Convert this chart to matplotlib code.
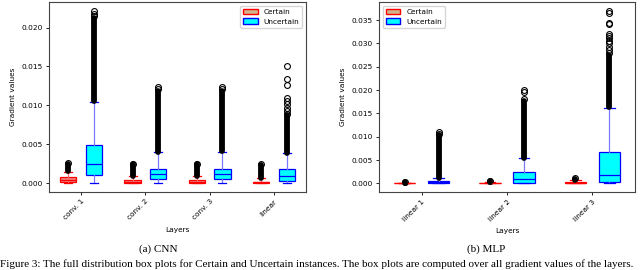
import matplotlib
matplotlib.use("Agg")
import matplotlib.pyplot as plt
from matplotlib.patches import Patch

# ---- data ----
cnn_layers = ["conv. 1", "conv. 2", "conv. 3", "linear"]
# (whislo, q1, med, q3, whishi) per layer
cnn_certain = [(0.0, 0.0001, 0.0004, 0.00072, 0.00145),
               (0.0, 0.00005, 0.0002, 0.00035, 0.0009),
               (0.0, 0.00005, 0.0002, 0.00035, 0.0009),
               (0.0, 0.0, 0.0001, 0.0002, 0.0006)]
cnn_uncertain = [(0.0, 0.00102, 0.00246, 0.00485, 0.01037),
                 (0.0, 0.00051, 0.00115, 0.00187, 0.00395),
                 (0.0, 0.00051, 0.00115, 0.00187, 0.0040),
                 (0.0, 0.0003, 0.0009, 0.00179, 0.00387)]
# dense flier columns (low, high) and separate visible fliers
cnn_certain_dense = [(0.0015, 0.0025), (0.0009, 0.0024), (0.0009, 0.0024), (0.0006, 0.0023)]
cnn_certain_fliers = [[0.0026], [0.0025], [0.0025], [0.0024]]
cnn_uncertain_dense = [(0.0105, 0.0212), (0.0040, 0.0119), (0.0041, 0.0119), (0.0039, 0.0087)]
cnn_uncertain_fliers = [[0.0215, 0.0218, 0.0221],
                        [0.0121, 0.01237],
                        [0.0121, 0.01237],
                        [0.0089, 0.0093, 0.0097, 0.0102, 0.0106, 0.0110, 0.0126, 0.0134, 0.0151]]

mlp_layers = ["linear 1", "linear 2", "linear 3"]
mlp_certain = [(0.0, 0.0, 0.00005, 0.0001, 0.00015),
               (0.0, 0.0, 0.00005, 0.0001, 0.0002),
               (0.0, 0.0, 0.0001, 0.0003, 0.0007)]
mlp_uncertain = [(0.0, 0.0, 0.0002, 0.0005, 0.00107),
                 (0.0, 0.00014, 0.00093, 0.00236, 0.0054),
                 (0.0, 0.00036, 0.0019, 0.00664, 0.0161)]
mlp_certain_dense = [(0.0001, 0.0003), (0.0003, 0.0005), (0.0008, 0.0010)]
mlp_certain_fliers = [[0.0002], [0.0005], [0.00105]]
mlp_uncertain_dense = [(0.0011, 0.0103), (0.0055, 0.0176), (0.0163, 0.0275)]
mlp_uncertain_fliers = [[0.0106, 0.0111],
                        [0.0181, 0.0197, 0.0200],
                        [0.0280, 0.0287, 0.0293, 0.0300, 0.0306, 0.0312, 0.0317,
                         0.0321, 0.0342, 0.0345, 0.0366, 0.0369]]

plt.rcParams["font.family"] = "DejaVu Sans"
plt.rcParams["font.size"] = 5.3

fig = plt.figure(figsize=(6.4, 2.7), dpi=100)
ax1 = fig.add_axes([49 / 640, 1 - 192 / 270, 257 / 640, 190 / 270])
ax2 = fig.add_axes([379 / 640, 1 - 192 / 270, 256 / 640, 190 / 270])


def stats(vals, fl):
    lo, q1, med, q3, hi = vals
    return {"whislo": lo, "q1": q1, "med": med, "q3": q3, "whishi": hi, "fliers": fl}


def draw(ax, layers, cert, unc, cd, cf, ud, uf, ylim, loc):
    n = len(layers)
    pos = list(range(1, n + 1))
    fp = dict(marker="o", markerfacecolor="none", markeredgecolor="black",
              markersize=4.2, markeredgewidth=0.8)
    ax.bxp([stats(cert[i], cf[i]) for i in range(n)],
           positions=[p - 0.2 for p in pos], widths=0.25, patch_artist=True,
           boxprops=dict(facecolor="#f08080", edgecolor="red", linewidth=0.9),
           medianprops=dict(color="red", linewidth=0.9),
           whiskerprops=dict(color="#ff6666", linewidth=0.9),
           capprops=dict(color="red", linewidth=0.9),
           flierprops=fp, manage_ticks=False)
    ax.bxp([stats(unc[i], uf[i]) for i in range(n)],
           positions=[p + 0.2 for p in pos], widths=0.25, patch_artist=True,
           boxprops=dict(facecolor="cyan", edgecolor="blue", linewidth=0.9),
           medianprops=dict(color="blue", linewidth=0.9),
           whiskerprops=dict(color="#7a7aff", linewidth=0.9),
           capprops=dict(color="blue", linewidth=0.9),
           flierprops=fp, manage_ticks=False)
    # dense runs of outliers show as solid black columns
    for i in range(n):
        for off, band in ((-0.2, cd[i]), (0.2, ud[i])):
            ax.plot([pos[i] + off, pos[i] + off], band, color="black",
                    linewidth=4.2, solid_capstyle="round", zorder=3)
    ax.set_xticks(pos)
    ax.set_xticklabels(layers, rotation=45, ha="right", rotation_mode="anchor")
    ax.set_xlim(0.5, n + 0.5)
    ax.set_ylim(*ylim)
    ax.set_xlabel("Layers")
    ax.set_ylabel("Gradient values")
    ax.tick_params(length=2.5, width=0.6, pad=2)
    for s in ax.spines.values():
        s.set_linewidth(0.8)
        s.set_color("#444444")
    h = [Patch(facecolor="#d2b48c", edgecolor="red"),
         Patch(facecolor="cyan", edgecolor="blue")]
    ax.legend(h, ["Certain", "Uncertain"], loc=loc, fontsize=5.3, frameon=True)


draw(ax1, cnn_layers, cnn_certain, cnn_uncertain, cnn_certain_dense, cnn_certain_fliers,
     cnn_uncertain_dense, cnn_uncertain_fliers, (-0.00115, 0.0233), "upper right")
draw(ax2, mlp_layers, mlp_certain, mlp_uncertain, mlp_certain_dense, mlp_certain_fliers,
     mlp_uncertain_dense, mlp_uncertain_fliers, (-0.00185, 0.0389), "upper left")

fig.text(158 / 640, 1 - 249 / 270, "(a) CNN", family="Liberation Serif", fontsize=8,
         ha="center", va="center")
fig.text(486 / 640, 1 - 249 / 270, "(b) MLP", family="Liberation Serif", fontsize=8,
         ha="center", va="center")
fig.text(0.0, 1 - 267 / 270,
         "Figure 3: The full distribution box plots for Certain and Uncertain instances. "
         "The box plots are computed over all gradient values of the layers.",
         family="Liberation Serif", fontsize=8, ha="left", va="baseline")

fig.savefig("out.png", dpi=100)
